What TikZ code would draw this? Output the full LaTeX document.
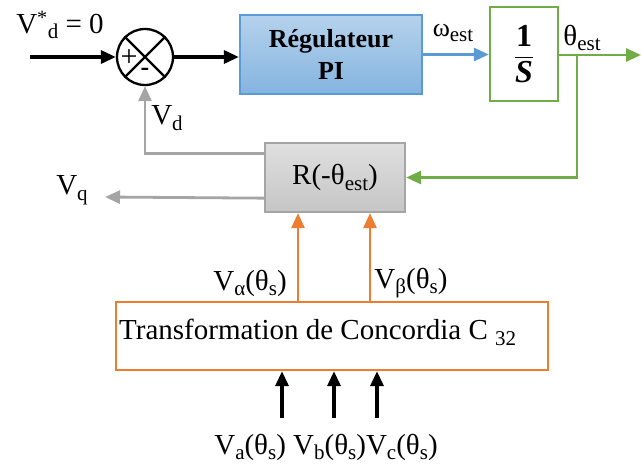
\documentclass[tikz,border=0pt]{standalone}
\usepackage{fontspec}
\setmainfont{Liberation Serif}
\usepackage{amsmath}
\usetikzlibrary{arrows.meta,calc}
\definecolor{cblue}{HTML}{5B9BD5}
\definecolor{cgreen}{HTML}{70AD47}
\definecolor{corange}{HTML}{ED7D31}
\definecolor{cgray}{HTML}{A5A5A5}
\newcommand{\lsub}[1]{\raisebox{-0.2em}{\fontsize{21}{21}\selectfont #1}}
\begin{document}
\begin{tikzpicture}[x=1pt,y=-1pt,
  tip/.style={-{Triangle[length=15pt,width=13pt]}},
  txt/.style={font=\fontsize{29}{31}\selectfont, inner sep=0pt},
  blk/.style={line width=2.3pt}]
\useasboundingbox (0,0) rectangle (641,471);
% blocks
\node[draw,circle,line width=2.3pt,minimum size=56pt,inner sep=0pt] (sum) at (145,57) {};
\draw[line width=2.3pt] (sum.north west) -- (sum.south east) (sum.north east) -- (sum.south west);
\node[txt,font=\fontsize{30}{30}\selectfont] (plus) at (129,58) {+};
\node[txt,font=\bfseries\fontsize{26}{26}\selectfont] (minus) at (145,72) {-};
\node[blk,draw=cblue,top color=cblue!45!white,bottom color=cblue!75!white,minimum width=182pt,minimum height=79pt,align=center,font=\bfseries\fontsize{26}{32}\selectfont] (pi) at (331,54.5) {Régulateur\\PI};
\node[blk,draw=cgreen,fill=white,minimum width=68pt,minimum height=94pt,inner sep=0pt,font=\fontsize{32}{34}\selectfont] (integ) at (524,54) {$\dfrac{\text{\textbf{1}}}{\text{\textbf{\textit{S}}}}$};
\node[blk,draw=cgray,top color=gray!25,bottom color=gray!45,minimum width=140pt,minimum height=69pt,font=\fontsize{29}{31}\selectfont] (R) at (335,177.5) {R(-θ\lsub{est})};
\node[blk,draw=corange,fill=white,minimum width=432pt,minimum height=68pt] (conc) at (332,336) {};
\node[txt,anchor=west] (conctxt) at (119,332) {Transformation de Concordia C \lsub{32}};
% coordinates
\coordinate (in) at (30,57);
\coordinate (out) at (641,55);
\coordinate (br) at (577,55);
\coordinate (vq) at (105,197);
\coordinate (xa) at (298,0);
\coordinate (xb) at (370,0);
\coordinate (ia) at (282,418);
\coordinate (ib) at (334,418);
\coordinate (ic) at (377,418);
% connectors
\draw[tip,line width=3.3pt] (in) -- (sum.west);
\draw[tip,line width=3.3pt] (sum.east) -- (sum.east -| pi.west);
\draw[tip,line width=2.8pt,cblue] (pi.east) -- (pi.east -| integ.west);
\draw[tip,line width=2.8pt,cgreen] (integ.east |- out) -- (out);
\draw[tip,line width=2.8pt,cgreen] (br) |- (R.east);
\draw[tip,line width=2.8pt,cgray] ([yshift=-12pt]R.north west) -| (sum.south);
\draw[tip,line width=2.8pt,cgray] ([yshift=15pt]R.south west) -- (vq);
\draw[tip,line width=2.8pt,corange] (conc.north -| xa) -- (R.south -| xa);
\draw[tip,line width=2.8pt,corange] (conc.north -| xb) -- (R.south -| xb);
\draw[tip,line width=3.3pt] (ia) -- (conc.south -| ia);
\draw[tip,line width=3.3pt] (ib) -- (conc.south -| ib);
\draw[tip,line width=3.3pt] (ic) -- (conc.south -| ic);
% labels
\node[txt] (lvd0) at (60,25) {V\textsuperscript{*}\lsub{d} = 0};
\node[txt] (lvd) at (167,118) {V\lsub{d}};
\node[txt,font=\fontsize{26}{28}\selectfont] (lw) at (453,33) {ω\lsub{est}};
\node[txt] (lth) at (582,38) {θ\lsub{est}};
\node[txt] (lvq) at (72,190) {V\lsub{q}};
\node[txt] (lva) at (250,283) {V\lsub{α}(θ\lsub{s})};
\node[txt] (lvb) at (411,283) {V\lsub{β}(θ\lsub{s})};
\node[txt] (labc) at (326,447) {V\lsub{a}(θ\lsub{s}) V\lsub{b}(θ\lsub{s})V\lsub{c}(θ\lsub{s})};
\end{tikzpicture}
\end{document}
